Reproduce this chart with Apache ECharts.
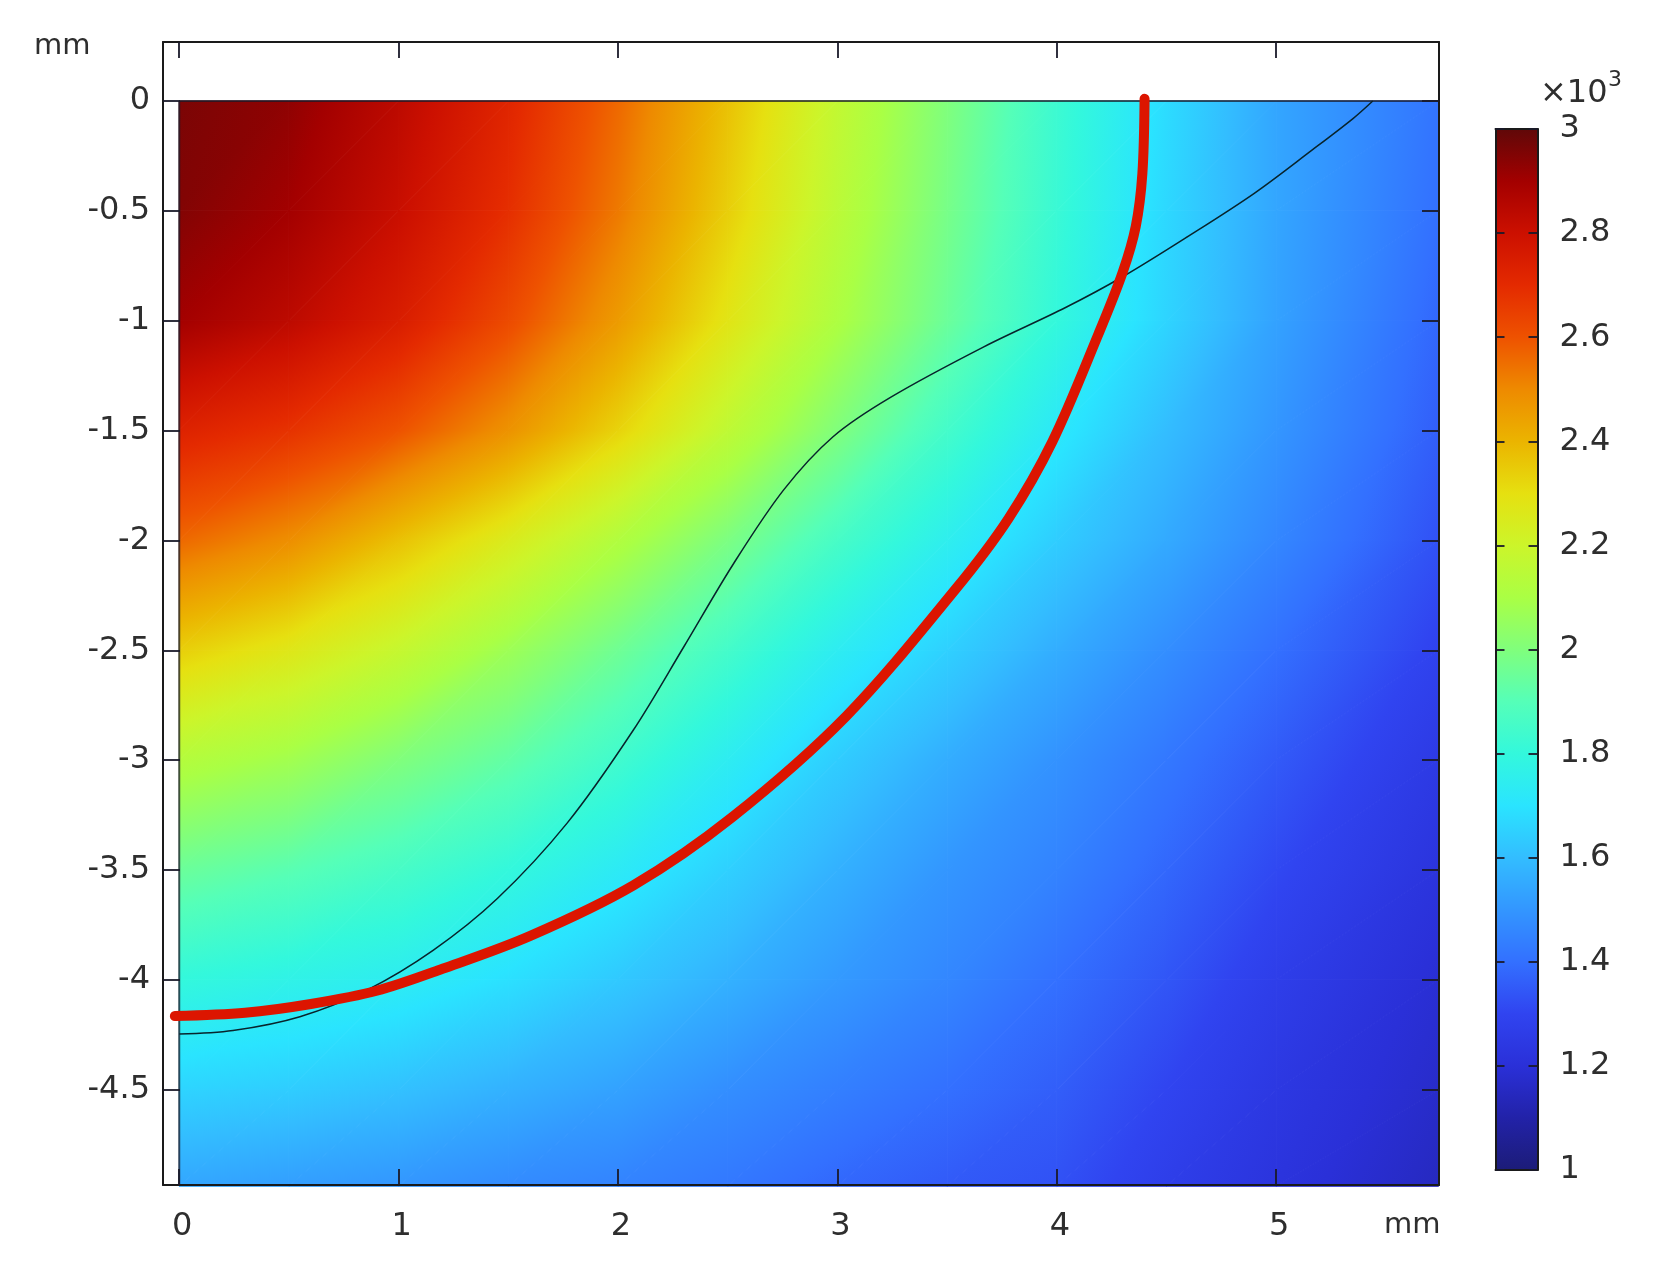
<!DOCTYPE html>
<html>
<head>
<meta charset="utf-8">
<title>temperature field</title>
<style>
html,body{margin:0;padding:0;background:#fff;}
#main{width:1656px;height:1271px;}
</style>
<script src="https://cdn.jsdelivr.net/npm/echarts@6/dist/echarts.min.js"></script>
</head>
<body>
<div id="main"></div>
<script>
// field, in units of 10^3
var xs = [0,0.5,1,1.5,2,2.5,3,3.5,4,4.5,5,5.74];
var ys = [0,-0.5,-1,-1.5,-2,-2.5,-3,-3.5,-4,-4.5,-4.94];
var field = [
	[2.96,2.93,2.84,2.72,2.56,2.37,2.17,2.00,1.83,1.68,1.54,1.41],
	[2.95,2.90,2.81,2.69,2.53,2.34,2.15,1.98,1.82,1.67,1.54,1.40],
	[2.90,2.84,2.75,2.62,2.46,2.28,2.11,1.95,1.80,1.66,1.53,1.38],
	[2.73,2.68,2.60,2.48,2.33,2.16,2.00,1.85,1.72,1.60,1.50,1.36],
	[2.56,2.49,2.37,2.25,2.12,1.99,1.86,1.75,1.64,1.55,1.46,1.33],
	[2.34,2.27,2.18,2.07,1.96,1.85,1.74,1.65,1.56,1.48,1.40,1.29],
	[2.13,2.08,2.00,1.93,1.84,1.74,1.64,1.56,1.49,1.42,1.35,1.25],
	[1.95,1.91,1.86,1.80,1.73,1.65,1.57,1.50,1.45,1.38,1.31,1.22],
	[1.80,1.77,1.74,1.69,1.63,1.57,1.51,1.46,1.40,1.34,1.27,1.19],
	[1.66,1.64,1.61,1.57,1.53,1.48,1.44,1.40,1.36,1.30,1.24,1.17],
	[1.54,1.52,1.50,1.47,1.45,1.42,1.38,1.35,1.33,1.27,1.22,1.15]
];

// red curve and thin black curve, in mm
var redCurve = [[-0.02,-4.165],[0.3,-4.15],[0.6,-4.11],[0.9,-4.05],[1.2,-3.95],[1.6,-3.80],[2.07,-3.57],[2.52,-3.26],[3.04,-2.80],[3.54,-2.22],[3.78,-1.90],[3.98,-1.55],[4.19,-1.06],[4.30,-0.78],[4.36,-0.57],[4.39,-0.33],[4.40,0.01]];
var blackCurve = [[0,-4.247],[0.245,-4.231],[0.55,-4.168],[0.855,-4.047],[1.157,-3.866],[1.45,-3.63],[1.767,-3.288],[2.07,-2.863],[2.30,-2.484],[2.527,-2.105],[2.755,-1.77],[2.98,-1.528],[3.24,-1.35],[3.665,-1.12],[4.04,-0.94],[4.30,-0.80],[4.60,-0.615],[4.90,-0.42],[5.16,-0.226],[5.35,-0.08],[5.44,0]];
var edgeLeft = [[0,0],[0,-4.934]];
var edgeTop = [[0,0],[5.742,0]];

var xTicks = [0,1,2,3,4,5];
var yTicks = [0,-0.5,-1,-1.5,-2,-2.5,-3,-3.5,-4,-4.5];

// colour table of the bar, from 1 to 3 in steps of 0.1
var barValues = [1,1.1,1.2,1.3,1.4,1.5,1.6,1.7,1.8,1.9,2,2.1,2.2,2.3,2.4,2.5,2.6,2.7,2.8,2.9,3];
var barColors = ['#1c1c78','#2222a8','#2a30d8','#3044f0','#3370ff','#3396ff','#33bdff','#2ae4ff','#33f8dc','#55ffb8','#80ff7c','#aaff44','#ccf52a','#e6e010','#ebb400','#ee8a00','#ee5200','#e42a00','#cc1000','#a30000','#600808'];

var cells = [];
for(var r=0;r<ys.length-1;r++){
	for(var c=0;c<xs.length-1;c++){
		cells.push([c,r]);
	}
}

function colorAt(v){
	return echarts.color.lerp((v-barValues[0])/(barValues[barValues.length-1]-barValues[0]),barColors);
}

// fill of one triangle: a linear gradient along the slope of its three values
function triangleFill(p,v){
	var d = (p[1][0]-p[0][0])*(p[2][1]-p[0][1])-(p[2][0]-p[0][0])*(p[1][1]-p[0][1]);
	var a = ((v[1]-v[0])*(p[2][1]-p[0][1])-(v[2]-v[0])*(p[1][1]-p[0][1]))/d;
	var b = ((p[1][0]-p[0][0])*(v[2]-v[0])-(p[2][0]-p[0][0])*(v[1]-v[0]))/d;
	var lo = Math.min(v[0],v[1],v[2]);
	var hi = Math.max(v[0],v[1],v[2]);
	var g = a*a+b*b;
	if(hi-lo<0.001 || g===0) return colorAt(lo);
	var stops = [{offset:0,color:colorAt(lo)}];
	for(var i=0;i<barValues.length;i++){
		if(barValues[i]>lo && barValues[i]<hi){
			stops.push({offset:(barValues[i]-lo)/(hi-lo),color:barColors[i]});
		}
	}
	stops.push({offset:1,color:colorAt(hi)});
	return new echarts.graphic.LinearGradient(
		p[0][0]+a*(lo-v[0])/g, p[0][1]+b*(lo-v[0])/g,
		p[0][0]+a*(hi-v[0])/g, p[0][1]+b*(hi-v[0])/g,
		stops, true);
}

function triangle(p,v){
	var fill = triangleFill(p,v);
	return {type:'polygon',shape:{points:p},style:{fill:fill,stroke:fill,lineWidth:1}};
}

function renderCell(params,api){
	var c = api.value(0), r = api.value(1);
	var tl = api.coord([xs[c],ys[r]]);
	var tr = api.coord([xs[c+1],ys[r]]);
	var bl = api.coord([xs[c],ys[r+1]]);
	var br = api.coord([xs[c+1],ys[r+1]]);
	var vTl = field[r][c], vTr = field[r][c+1], vBl = field[r+1][c], vBr = field[r+1][c+1];
	return {type:'group',children:[
		triangle([tl,tr,bl],[vTl,vTr,vBl]),
		triangle([tr,br,bl],[vTr,vBr,vBl])
	]};
}

function renderBar(params,api){
	var top = api.coord([0,barValues[barValues.length-1]]);
	var bottom = api.coord([1,barValues[0]]);
	var stops = [];
	for(var i=0;i<barValues.length;i++){
		stops.push({offset:1-i/(barValues.length-1),color:barColors[i]});
	}
	stops.reverse();
	return {type:'rect',
		shape:{x:top[0],y:top[1],width:bottom[0]-top[0],height:bottom[1]-top[1]},
		style:{fill:new echarts.graphic.LinearGradient(0,0,0,1,stops)}};
}

var fontName = '"DejaVu Sans"';
var ink = '#2e2e2e';
var labelSize = 32;
var frameLine = {show:true,onZero:false,lineStyle:{color:'#1a1a1a',width:2}};
var tickLong = {show:true,inside:true,length:16,customValues:xTicks,lineStyle:{color:'#1a1a2a',width:1.8}};
var tickY = {show:true,inside:true,length:17,customValues:yTicks,lineStyle:{color:'#1a1a2a',width:1.8}};
var tickBar = {show:true,inside:true,length:9,lineStyle:{color:'#1a1a2a',width:1.8}};

var option = {
	backgroundColor:'#fff',
	animation:false,
	textStyle:{fontFamily:fontName},
	grid:[
		{left:163,top:42,width:1276,height:1143},
		{left:1495.5,top:129,width:42,height:1041}
	],
	xAxis:[
		{gridIndex:0,type:'value',position:'bottom',min:-0.074,max:5.742,z:5,axisLine:frameLine,splitLine:{show:false},
			axisTick:tickLong,
			axisLabel:{show:true,customValues:xTicks,margin:26,padding:[0,0,0,6],fontSize:labelSize,color:ink,fontFamily:fontName}},
		{gridIndex:0,type:'value',position:'top',min:-0.074,max:5.742,z:5,axisLine:frameLine,splitLine:{show:false},
			axisTick:tickLong,axisLabel:{show:false}},
		{gridIndex:1,type:'value',position:'bottom',min:0,max:1,z:5,axisLine:frameLine,splitLine:{show:false},axisTick:{show:false},axisLabel:{show:false}},
		{gridIndex:1,type:'value',position:'top',min:0,max:1,z:5,axisLine:frameLine,splitLine:{show:false},axisTick:{show:false},axisLabel:{show:false}}
	],
	yAxis:[
		{gridIndex:0,type:'value',position:'left',min:-4.934,max:0.2686,z:5,axisLine:frameLine,splitLine:{show:false},
			axisTick:tickY,
			axisLabel:{show:true,customValues:yTicks,margin:13,padding:[8,0,0,0],fontSize:labelSize,color:ink,fontFamily:fontName}},
		{gridIndex:0,type:'value',position:'right',min:-4.934,max:0.2686,z:5,axisLine:frameLine,splitLine:{show:false},
			axisTick:tickY,axisLabel:{show:false}},
		{gridIndex:1,type:'value',position:'left',min:1,max:3,interval:0.2,z:5,axisLine:frameLine,splitLine:{show:false},
			axisTick:tickBar,axisLabel:{show:false}},
		{gridIndex:1,type:'value',position:'right',min:1,max:3,interval:0.2,z:5,axisLine:frameLine,splitLine:{show:false},
			axisTick:tickBar,
			axisLabel:{show:true,margin:22,padding:[3,0,0,0],fontSize:labelSize,color:ink,fontFamily:fontName}}
	],
	series:[
		{type:'custom',xAxisIndex:0,yAxisIndex:0,z:1,silent:true,renderItem:renderCell,data:cells,encode:{x:0,y:1}},
		{type:'custom',xAxisIndex:2,yAxisIndex:2,z:1,silent:true,renderItem:renderBar,data:[[0,1]],encode:{x:0,y:1}},
		{type:'line',xAxisIndex:0,yAxisIndex:0,z:3,data:edgeLeft,symbol:'none',silent:true,lineStyle:{color:'#1a1a2a',width:2,opacity:0.75}},
		{type:'line',xAxisIndex:0,yAxisIndex:0,z:3,data:edgeTop,symbol:'none',silent:true,lineStyle:{color:'#1a1a2a',width:2,opacity:0.75}},
		{type:'line',xAxisIndex:0,yAxisIndex:0,z:4,data:blackCurve,symbol:'none',smooth:0.33,silent:true,lineStyle:{color:'#08242c',width:1.5}},
		{type:'line',xAxisIndex:0,yAxisIndex:0,z:6,data:redCurve,symbol:'none',smooth:0.33,silent:true,lineStyle:{color:'#dc1500',width:10,cap:'round'}}
	],
	graphic:[
		{type:'text',left:34,top:32,style:{text:'mm',fontSize:29,fontFamily:fontName,fill:ink}},
		{type:'text',left:1384,top:1211,style:{text:'mm',fontSize:29,fontFamily:fontName,fill:ink}},
		{type:'text',left:1540,top:78,style:{text:'×10',fontSize:32,fontFamily:fontName,fill:ink}},
		{type:'text',left:1608,top:69,style:{text:'3',fontSize:22,fontFamily:fontName,fill:ink}}
	]
};

var myChart = echarts.init(document.getElementById('main'));
myChart.setOption(option);
</script>
</body>
</html>
